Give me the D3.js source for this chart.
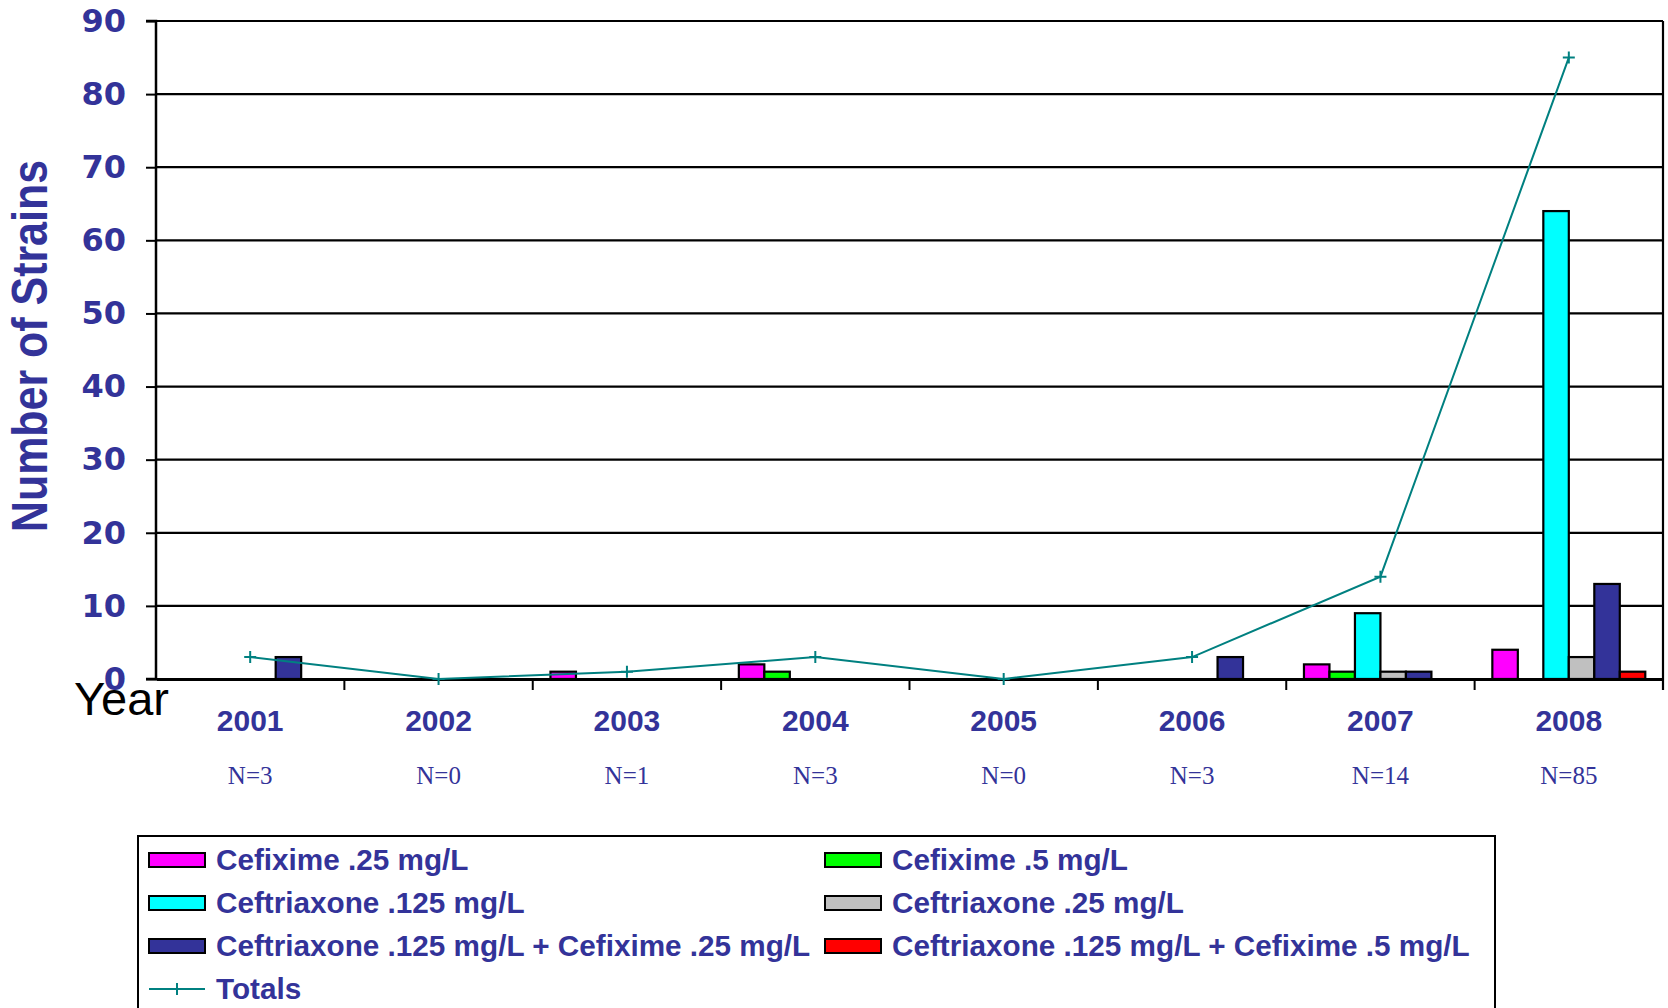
<!DOCTYPE html>
<html><head><meta charset="utf-8">
<script src="https://cdn.jsdelivr.net/npm/d3@7"></script>
<style>body{margin:0;background:#fff;}svg{display:block;}</style>
</head><body>
<svg id="chart" width="1668" height="1008"></svg>
<script>
const years = ["2001","2002","2003","2004","2005","2006","2007","2008"];
const nLabels = ["N=3","N=0","N=1","N=3","N=0","N=3","N=14","N=85"];
const seriesNames = ["Cefixime .25 mg/L","Cefixime .5 mg/L","Ceftriaxone .125 mg/L","Ceftriaxone .25 mg/L","Ceftriaxone .125 mg/L + Cefixime .25 mg/L","Ceftriaxone .125 mg/L + Cefixime .5 mg/L"];
const seriesColors = ["#FF00FF","#00FF00","#00FFFF","#C0C0C0","#333399","#FF0000"];
const cefixime25 =      [0,0,1,2,0,0,2,4];
const cefixime5 =       [0,0,0,1,0,0,1,0];
const ceftriaxone125 =  [0,0,0,0,0,0,9,64];
const ceftriaxone25 =   [0,0,0,0,0,0,1,3];
const combo25 =         [3,0,0,0,0,3,1,13];
const combo5 =          [0,0,0,0,0,0,0,1];
const totals =          [3,0,1,3,0,3,14,85];
const yTicks = [0,10,20,30,40,50,60,70,80,90];
const seriesValues = [cefixime25,cefixime5,ceftriaxone125,ceftriaxone25,combo25,combo5];

const svg = d3.select("#chart");
const X0 = 156, X1 = 1663, Y0 = 679, Y1 = 21;
const navy = "#333399";

const x = d3.scaleBand().domain(years).range([X0, X1]).padding(0);
const xs = d3.scaleBand().domain(d3.range(6)).range([0, x.bandwidth()]).paddingInner(0).paddingOuter(0.695);
const y = d3.scaleLinear().domain([0, 90]).range([Y0, Y1]);

// gridlines
svg.append("g").selectAll("line").data(yTicks.filter(d=>d>0)).join("line")
  .attr("x1", X0).attr("x2", X1).attr("y1", d=>y(d)).attr("y2", d=>y(d))
  .attr("stroke", "#000").attr("stroke-width", 2.2);

// right border
svg.append("line").attr("x1", X1).attr("x2", X1).attr("y1", Y1).attr("y2", Y0+11)
  .attr("stroke","#000").attr("stroke-width",2.2);

// bars
const gBars = svg.append("g");
seriesValues.forEach((vals, si) => {
  gBars.append("g").selectAll("rect").data(years.map((yr,i)=>({yr, v: vals[i]})).filter(d=>d.v>0)).join("rect")
    .attr("x", d => x(d.yr) + xs(si))
    .attr("width", xs.bandwidth())
    .attr("y", d => y(d.v))
    .attr("height", d => Y0 - y(d.v))
    .attr("fill", seriesColors[si])
    .attr("stroke", "#000").attr("stroke-width", 2.2);
});

// y axis
const yAxis = d3.axisLeft(y).tickValues(yTicks).tickSize(10).tickPadding(20).tickFormat(d3.format("d"));
const ya = svg.append("g").attr("transform", `translate(${X0},0)`).call(yAxis);
ya.select(".domain").attr("stroke","#000").attr("stroke-width",2.5).attr("d", `M-10,${Y1}H0V${Y0}H-10`);
ya.selectAll(".tick line").attr("stroke","#000").attr("stroke-width",2);
ya.selectAll(".tick text").attr("fill", navy)
  .style("font-family","'DejaVu Sans', Verdana, sans-serif").style("font-weight","bold").style("font-size","32px");

// x axis
const xAxis = d3.axisBottom(x).tickSize(0).tickFormat("");
const xa = svg.append("g").attr("transform", `translate(0,${Y0})`).call(xAxis);
xa.select(".domain").attr("stroke","#000").attr("stroke-width",3);
xa.selectAll(".tick").remove();
xa.selectAll(".bt").data(years.slice(1).concat(["end"])).join("line")
  .attr("x1", (d,i)=> i < years.length-1 ? x(d) : X1)
  .attr("x2", (d,i)=> i < years.length-1 ? x(d) : X1)
  .attr("y1", 0).attr("y2", 11).attr("stroke","#000").attr("stroke-width",2);

// year labels
svg.append("g").selectAll("text").data(years).join("text")
  .attr("x", d => x(d) + x.bandwidth()/2).attr("y", 731)
  .attr("text-anchor","middle").attr("fill", navy)
  .style("font-family","'Liberation Sans', Arial, sans-serif").style("font-weight","bold").style("font-size","30px")
  .text(d=>d);
// N labels
svg.append("g").selectAll("text").data(years).join("text")
  .attr("x", d => x(d) + x.bandwidth()/2).attr("y", 784)
  .attr("text-anchor","middle").attr("fill", navy)
  .style("font-family","'Liberation Serif', 'Times New Roman', serif").style("font-size","25px")
  .text((d,i)=>nLabels[i]);

// totals line
const line = d3.line().x((d,i)=> x(years[i]) + x.bandwidth()/2).y(d=>y(d));
svg.append("path").datum(totals).attr("d", line).attr("fill","none").attr("stroke","#008080").attr("stroke-width",2);
svg.append("g").selectAll("path").data(totals).join("path")
  .attr("d", (d,i)=>{const cx = x(years[i]) + x.bandwidth()/2, cy = y(d); return `M${cx-6},${cy}H${cx+6}M${cx},${cy-6}V${cy+6}`;})
  .attr("stroke","#008080").attr("stroke-width",2);

// y title
svg.append("text").attr("transform","translate(47,346) rotate(-90)")
  .attr("text-anchor","middle").attr("fill", navy)
  .attr("textLength", 372).attr("lengthAdjust","spacingAndGlyphs")
  .style("font-family","'Liberation Sans', Arial, sans-serif").style("font-weight","bold").style("font-size","50px")
  .text("Number of Strains");

// Year label
svg.append("text").attr("x", 74).attr("y", 715).attr("fill","#000")
  .style("font-family","'Liberation Sans', Arial, sans-serif").style("font-size","47px")
  .text("Year");

// legend
const lg = svg.append("g");
lg.append("rect").attr("x",138).attr("y",836).attr("width",1357).attr("height",200)
  .attr("fill","#fff").attr("stroke","#000").attr("stroke-width",2);
const rowsY = [860, 903, 946, 989];
const colSw = [149, 825];
const legendItems = seriesNames.map((n,i)=>({name:n, color:seriesColors[i], col: i%2, row: Math.floor(i/2)}));
legendItems.forEach(it => {
  const sx = colSw[it.col], cy = rowsY[it.row];
  lg.append("rect").attr("x", sx).attr("y", cy-7).attr("width", 56).attr("height", 14)
    .attr("fill", it.color).attr("stroke","#000").attr("stroke-width",2);
  lg.append("text").attr("x", sx+67).attr("y", cy+10).attr("fill", navy)
    .style("font-family","'Liberation Sans', Arial, sans-serif").style("font-weight","bold").style("font-size","29.7px")
    .text(it.name);
});
{
  const sx = colSw[0], cy = rowsY[3];
  lg.append("line").attr("x1", sx).attr("x2", sx+56).attr("y1", cy).attr("y2", cy).attr("stroke","#008080").attr("stroke-width",2);
  lg.append("path").attr("d", `M${sx+22},${cy}H${sx+34}M${sx+28},${cy-6}V${cy+6}`).attr("stroke","#008080").attr("stroke-width",2);
  lg.append("text").attr("x", sx+67).attr("y", cy+10).attr("fill", navy)
    .style("font-family","'Liberation Sans', Arial, sans-serif").style("font-weight","bold").style("font-size","29.7px")
    .text("Totals");
}
</script>
</body></html>
